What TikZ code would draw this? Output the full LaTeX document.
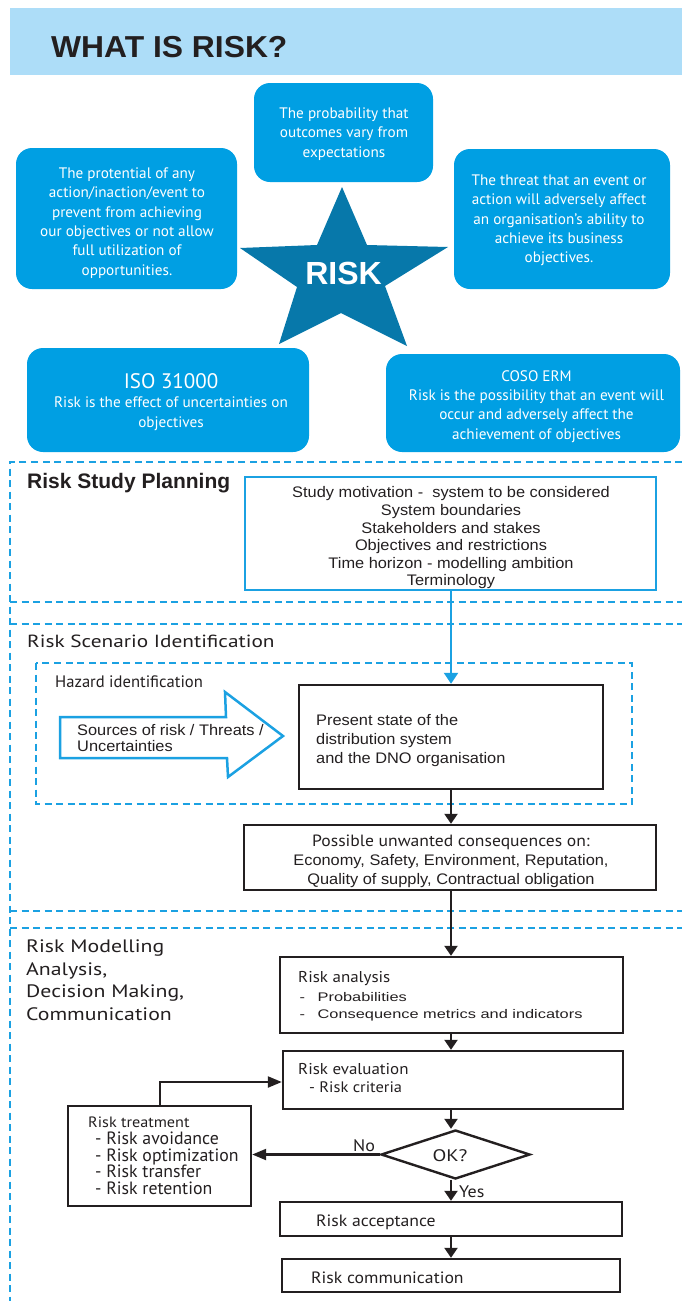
\documentclass[tikz,border=0pt]{standalone}
\usepackage{fontspec}
\setmainfont{Liberation Sans}
\newfontfamily\titlefont[FakeStretch=1.05]{Liberation Sans}
\newfontfamily\arw[FakeStretch=1.07]{Liberation Sans}
\newfontfamily\arww[FakeStretch=1.31]{Liberation Sans}
\newfontfamily\hum{PT Sans}
\newfontfamily\humm[FakeStretch=1.08]{PT Sans}
\newfontfamily\humw[FakeStretch=1.21]{PT Sans}
\newcommand\tightlines{\lineskiplimit=-20pt\relax}
\usetikzlibrary{arrows.meta,shapes.geometric}
\definecolor{bandblue}{HTML}{ADDDF8}
\definecolor{cardblue}{HTML}{009FE3}
\definecolor{starblue}{HTML}{0778AA}
\definecolor{lineblue}{HTML}{1BA1E2}
\definecolor{ink}{HTML}{231F20}
\begin{document}
\begin{tikzpicture}[x=1pt,y=-1pt,
  card/.style={fill=cardblue, rounded corners=16pt, inner sep=0pt},
  cardtext/.style={text=white, align=center, inner sep=0pt, font=\hum\fontsize{15.2}{19.3}\selectfont},
  sect/.style={draw=lineblue, line width=2.6pt, dash pattern=on 7pt off 4.5pt},
  frame/.style={draw=ink, line width=2.4pt, inner sep=0pt},
  planbox/.style={draw=lineblue, line width=2.6pt, inner sep=0pt},
  txt/.style={text=ink, inner sep=0pt},
  varr/.style={draw=ink, line width=2.2pt, -{Triangle[length=10pt,width=13pt]}},
  harr/.style={draw=ink, line width=2.2pt, -{Triangle[length=14pt,width=11pt]}},
  barr/.style={draw=lineblue, line width=2.2pt, -{Triangle[length=11pt,width=14pt]}}
]
\useasboundingbox (0,0) rectangle (682,1301);

% ---------- header ----------
\fill[bandblue] (10,8) rectangle (682,75);
\node[txt, anchor=base west, font=\titlefont\bfseries\fontsize{30.3}{34}\selectfont] (title) at (51,57) {WHAT IS RISK?};

% ---------- star with the five definitions ----------
\fill[starblue] (342,187) -- (367,245) -- (448,247) -- (385,286) -- (407,346)
  -- (341,313) -- (279,344) -- (297,287) -- (240,248) -- (317,245) -- cycle;
\node[text=white, inner sep=0pt, font=\bfseries\fontsize{32}{36}\selectfont] (risk) at (343.5,273.5) {RISK};

\node[card, minimum width=179, minimum height=99] (pdef) at (343.5,132.5) {};
\node[cardtext] (pdef-t) at (344,134) {The probability that\\outcomes vary from\\expectations};

\node[card, minimum width=221, minimum height=141] (potential) at (126.5,218.5) {};
\node[cardtext] (potential-t) at (127,223) {The protential of any\\action/inaction/event to\\prevent from achieving\\our objectives or not allow\\full utilization of\\opportunities.};

\node[card, minimum width=216, minimum height=140] (threat) at (562,219) {};
\node[cardtext] (threat-t) at (559,220.5) {The threat that an event or\\action will adversely affect\\an organisation’s ability to\\achieve its business\\objectives.};

\node[card, minimum width=282, minimum height=104] (iso) at (168,400) {};
\node[cardtext, font=\hum\fontsize{15.2}{19.5}\selectfont] (iso-t) at (171,402) {{\fontsize{21}{19.5}\selectfont ISO 31000}\\Risk is the effect of uncertainties on\\objectives};

\node[card, minimum width=294, minimum height=98] (coso) at (533,403) {};
\node[cardtext] (coso-t) at (536.5,406.3) {COSO ERM\\Risk is the possibility that an event will\\occur and adversely affect the\\achievement of objectives};

% ---------- dashed section frames ----------
\draw[sect] (682,462) -- (10,462) -- (10,1301);
\draw[sect] (10,602) -- (682,602);
\draw[sect] (10,624) -- (682,624);
\draw[sect] (10,911) -- (682,911);
\draw[sect] (10,928) -- (682,928);
\draw[sect] (36,663) rectangle (632,804);

% ---------- section titles ----------
\node[txt, anchor=base west, font=\bfseries\fontsize{21}{24}\selectfont] (planning) at (27,488) {Risk Study Planning};
\node[txt, anchor=base west, font=\humw\fontsize{17.6}{21}\selectfont] (scenario) at (27,647) {Risk Scenario Identification};
\node[txt, anchor=base west, font=\hum\fontsize{16.6}{19}\selectfont] (hazard) at (55,687) {Hazard identification};
\node[txt, anchor=west, align=left, font=\humw\fontsize{18}{22.5}\selectfont] (modelling) at (26,980) {Risk Modelling\\Analysis,\\Decision Making,\\Communication};

% ---------- planning box ----------
\node[planbox, minimum width=411, minimum height=113] (plan) at (450.5,533.5) {};
\node[txt, align=center, font=\arw\fontsize{15.3}{17.6}\selectfont] (plan-t) at (451,538) {Study motivation -\ \ system to be considered\\System boundaries\\Stakeholders and stakes\\Objectives and restrictions\\Time horizon - modelling ambition\\Terminology};

% ---------- scenario identification ----------
\draw[draw=lineblue, line width=2.5pt, fill=white] (60,717) -- (226,717) -- (225,692) -- (283,736)
  -- (228,777) -- (227,758) -- (60,758) -- cycle;
\node[txt, anchor=west, align=left, font=\arw\fontsize{15.3}{16}\selectfont] (sources) at (77,738) {Sources of risk / Threats /\\Uncertainties};

\node[frame, minimum width=304, minimum height=104] (pres) at (451,737) {};
\node[txt, anchor=west, align=left, font=\arw\fontsize{15.3}{19}\selectfont] (pres-t) at (316,741) {Present state of the\\distribution system\\and the DNO organisation};

\node[frame, minimum width=412, minimum height=65] (cons) at (450,857.5) {};
\node[txt, align=center, font=\arw\fontsize{15.3}{19}\selectfont] (cons-t) at (451,861) {{\humm\fontsize{16.3}{19}\selectfont Possible unwanted consequences on:}\\Economy, Safety, Environment, Reputation,\\Quality of supply, Contractual obligation};

% ---------- modelling, decision making ----------
\node[frame, minimum width=343, minimum height=76] (ana) at (451.5,995) {};
\node[txt, anchor=base west, font=\humm\fontsize{15.7}{19}\selectfont] (ana-h) at (298,982) {Risk analysis};
\node[txt, anchor=base west, font=\arww\fontsize{12.5}{16}\selectfont] (ana-a) at (299.5,1001) {-\hspace{12.5pt}Probabilities};
\node[txt, anchor=base west, font=\arww\fontsize{12.5}{16}\selectfont] (ana-b) at (299.5,1018) {-\hspace{12.5pt}Consequence metrics and indicators};

\node[frame, minimum width=340, minimum height=58] (eval) at (453,1080) {};
\node[txt, anchor=base west, font=\humm\fontsize{15.7}{19}\selectfont] (eval-h) at (298,1074) {Risk evaluation};
\node[txt, anchor=base west, font=\humm\fontsize{15.2}{19}\selectfont] (eval-a) at (309,1092) {- Risk criteria};

\node[draw=ink, line width=2.4pt, diamond, inner sep=0pt, minimum width=149, minimum height=49] (ok) at (455.5,1154.5) {};
\node[txt, font=\humw\fontsize{16.7}{19}\selectfont] (ok-t) at (450,1156) {OK?};

\node[frame, minimum width=183, minimum height=100] (treat) at (159.5,1156) {};
\node[txt, anchor=base west, font=\humm\fontsize{15}{19}\selectfont] (treat-h) at (88,1127) {Risk treatment};
\node[txt, anchor=west, align=left, font={\hum\fontsize{17.8}{16.4}\selectfont\tightlines}] (treat-t) at (95,1163.2) {- Risk avoidance\\- Risk optimization\\- Risk transfer\\- Risk retention};

\node[frame, minimum width=342, minimum height=34] (acc) at (451,1219) {};
\node[txt, anchor=base west, font=\humm\fontsize{16.4}{19}\selectfont] (acc-t) at (316,1226) {Risk acceptance};

\node[frame, minimum width=338, minimum height=33] (comm) at (451,1275.5) {};
\node[txt, anchor=base west, font=\humm\fontsize{16.4}{19}\selectfont] (comm-t) at (311,1283) {Risk communication};

\node[txt, anchor=base west, font=\humm\fontsize{16.7}{19}\selectfont] (no) at (353,1151) {No};
\node[txt, anchor=base west, font=\humm\fontsize{16.7}{19}\selectfont] (yes) at (459,1197) {Yes};

% ---------- connectors ----------
\coordinate (axis) at (451,0);
\coordinate (loop) at (160,1082);
\draw[barr] (plan.south -| axis) -- (pres.north -| axis);
\draw[varr] (pres.south -| axis) -- (cons.north -| axis);
\draw[varr] (cons.south -| axis) -- (ana.north -| axis);
\draw[varr] (ana.south -| axis) -- (eval.north -| axis);
\draw[varr] (eval.south -| axis) -- (ok.north -| axis);
\draw[varr] (ok.south -| axis) -- (acc.north -| axis);
\draw[varr] (acc.south -| axis) -- (comm.north -| axis);
\draw[harr] (ok.west) -- (treat.east |- ok.west);
\draw[harr] (treat.north -| loop) |- (eval.west |- loop);
\end{tikzpicture}
\end{document}
